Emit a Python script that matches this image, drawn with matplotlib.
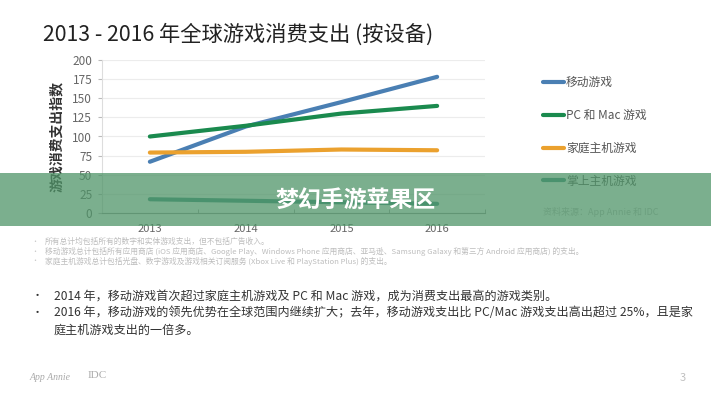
import matplotlib.pyplot as plt
from matplotlib.patches import Rectangle

plt.rcParams['font.family'] = ['Noto Sans CJK SC', 'DejaVu Sans']

years = ["2013", "2014", "2015", "2016"]
mobile = [67, 113, 145, 178]
pc_mac = [100, 114, 130, 140]
console = [79, 80, 83, 82]
handheld = [18, 16, 14, 12]
series_names = ["移动游戏", "PC 和 Mac 游戏", "家庭主机游戏", "掌上主机游戏"]
colors = ["#4a7fb3", "#1a8a4e", "#eba12e", "#3f9080"]

footnotes = [
    "所有总计均包括所有的数字和实体游戏支出，但不包括广告收入。",
    "移动游戏总计包括所有应用商店 (iOS 应用商店、Google Play、Windows Phone 应用商店、亚马逊、Samsung Galaxy 和第三方 Android 应用商店) 的支出。",
    "家庭主机游戏总计包括光盘、数字游戏及游戏相关订阅服务 (Xbox Live 和 PlayStation Plus) 的支出。",
]
bullets = [
    "2014 年，移动游戏首次超过家庭主机游戏及 PC 和 Mac 游戏，成为消费支出最高的游戏类别。",
    "2016 年，移动游戏的领先优势在全球范围内继续扩大；去年，移动游戏支出比 PC/Mac 游戏支出高出超过 25%，且是家",
    "庭主机游戏支出的一倍多。",
]

W, H = 711, 400
fig = plt.figure(figsize=(W / 100, H / 100), dpi=100)
fig.patch.set_facecolor("white")

ax = fig.add_axes([102 / W, 1 - 213 / H, 383 / W, 153 / H])
x = range(len(years))
for vals, name, c in zip([mobile, pc_mac, console, handheld], series_names, colors):
    ax.plot(x, vals, color=c, lw=3, label=name, solid_capstyle="round")

ax.set_xlim(-0.5, 3.5)
ax.set_ylim(0, 200)
ax.set_yticks(range(0, 201, 25))
ax.set_xticks(list(x))
ax.set_xticklabels(years)
ax.set_xticks([-0.5, 0.5, 1.5, 2.5, 3.5], minor=True)
ax.tick_params(axis="x", which="major", length=0, pad=8, labelsize=8, labelcolor="#666666")
ax.tick_params(axis="x", which="minor", length=3, direction="in", color="#999999")
ax.tick_params(axis="y", length=3, color="#bbbbbb", labelsize=8.5, labelcolor="#666666", pad=4)
ax.grid(axis="y", color="#ececec", lw=0.8)
ax.set_axisbelow(True)
for s in ["top", "right"]:
    ax.spines[s].set_visible(False)
ax.spines["left"].set_color("#dddddd")
ax.spines["bottom"].set_color("#999999")
ax.set_ylabel("游戏消费支出指数", fontsize=10, fontweight="bold", color="#333333", labelpad=6)

leg = ax.legend(loc="upper left", bbox_to_anchor=(543 / W, 1 - 76 / H), bbox_transform=fig.transFigure,
                frameon=False, fontsize=8.5, labelspacing=1.68, handlelength=1.8, handletextpad=0.15,
                borderaxespad=0, borderpad=0)
for t in leg.get_texts():
    t.set_color("#555555")
fig.text(543 / W, 1 - 212 / H, "资料来源：App Annie 和 IDC", fontsize=6.5, color="#c0c0c0", va="center")

fig.text(43 / W, 1 - 35 / H, "2013 - 2016 年全球游戏消费支出 (按设备)", fontsize=15.3, color="#222222", va="center")

for i, t in enumerate(footnotes):
    yy = 1 - (242 + i * 9.5) / H
    fig.text(31 / W, yy, "•", fontsize=5, color="#c8c8c8", va="center")
    fig.text(45 / W, yy, t, fontsize=5.6, color="#bdbdbd", va="center")

for i, t in enumerate(bullets):
    yy = 1 - (296 + i * 17) / H
    if i < 2:
        fig.text(32 / W, yy, "•", fontsize=8, color="#333333", va="center")
    fig.text(54 / W, yy, t, fontsize=8.7, color="#333333", va="center")

fig.text(30 / W, 1 - 378 / H, "App Annie", fontsize=7, style="italic", color="#aaaaaa", va="center",
         family="Liberation Serif")
fig.text(88 / W, 1 - 376 / H, "IDC", fontsize=8, color="#aaaaaa", va="center", family="Liberation Serif")
fig.text(680 / W, 1 - 378 / H, "3", fontsize=8, color="#c0c0c0", va="center")

fig.add_artist(Rectangle((0, 1 - 226 / H), 1, 53 / H, transform=fig.transFigure,
                         facecolor="#4f9468", alpha=0.75, edgecolor="none", zorder=10))
fig.text(0.5, 1 - 200 / H, "梦幻手游苹果区", fontsize=16.5, fontweight="bold", color="white",
         ha="center", va="center", zorder=11)

fig.savefig("out.png", dpi=100)
